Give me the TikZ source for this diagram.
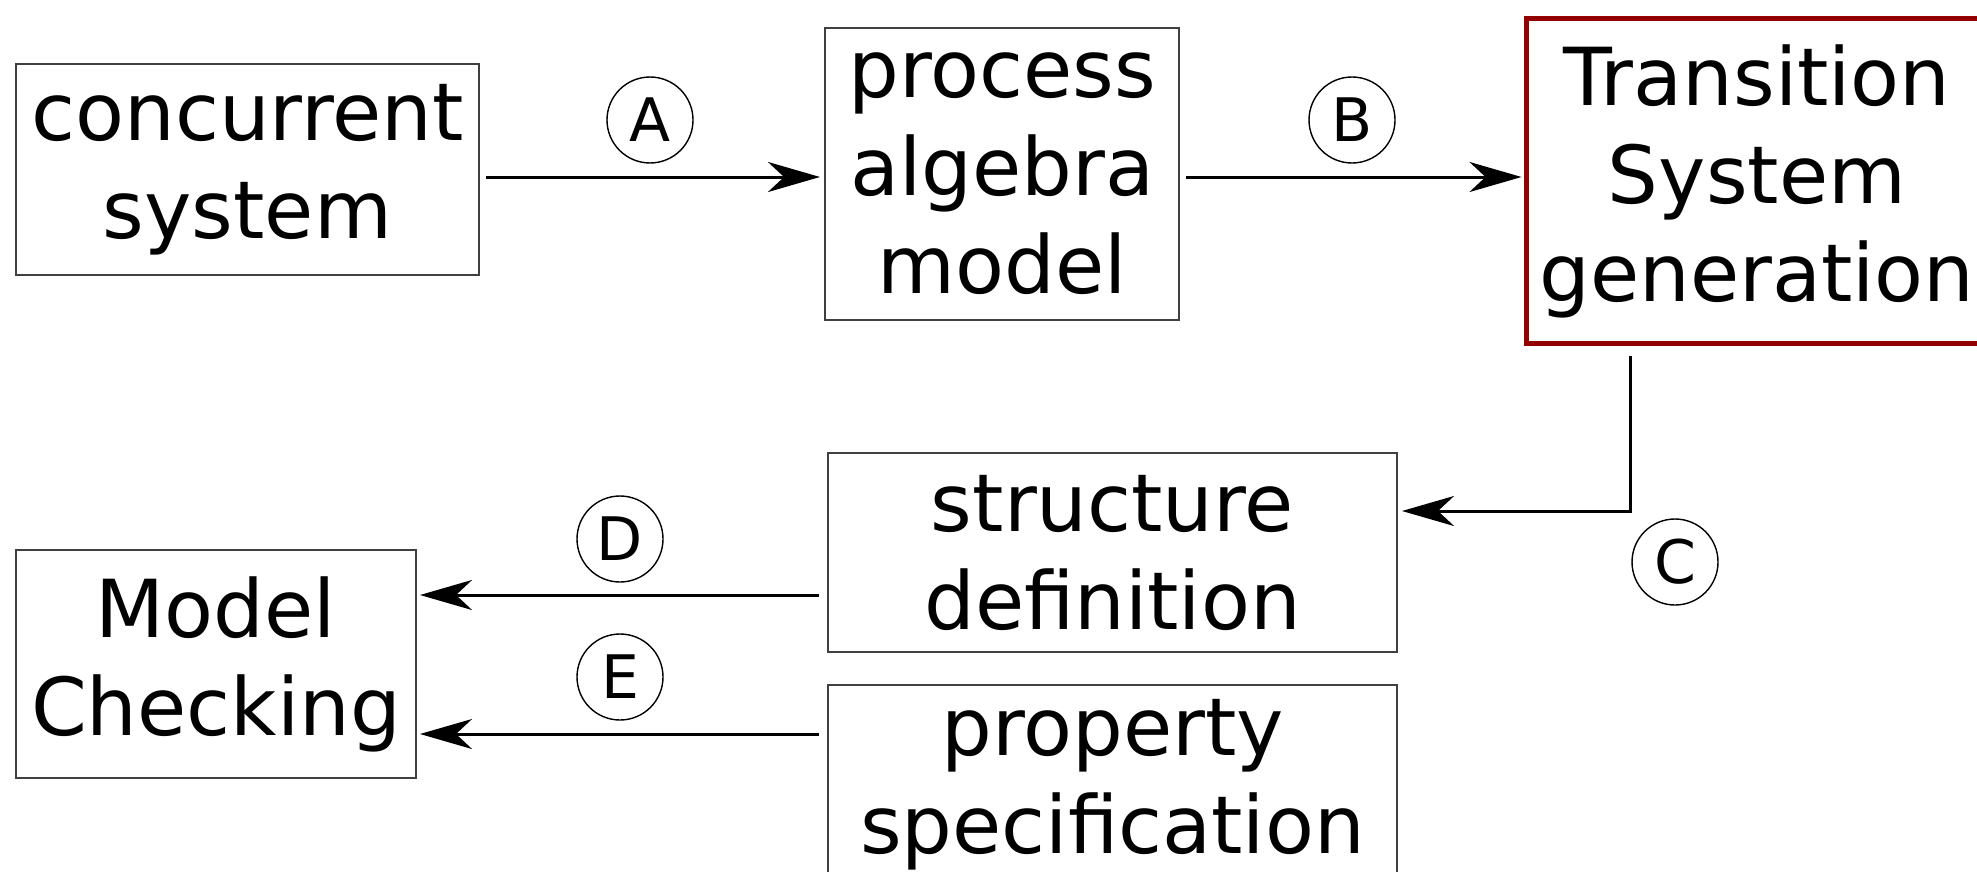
\documentclass[tikz,border=0pt]{standalone}
\usepackage{fontspec}
\setmainfont{DejaVu Sans}
\usetikzlibrary{arrows.meta}
\definecolor{tsred}{HTML}{930000}
\begin{document}
\begin{tikzpicture}[x=1pt,y=-1pt,
  box/.style={draw=black!75,line width=2pt,inner sep=0pt,align=center,
    font=\fontsize{80}{98}\selectfont},
  lbl/.style={draw=black,circle,line width=1.4pt,minimum size=86pt,inner sep=0pt,
    font=\fontsize{60}{64}\selectfont},
  arr/.style={line width=3pt,-{Stealth[length=52pt,width=30pt,inset=16pt]}}]
\useasboundingbox (0,0) rectangle (1977,872);
\clip (0,0) rectangle (1977,872);
% boxes
\node[box,minimum width=463pt,minimum height=211pt] (cs) at (247.5,169.5) {concurrent\\system};
\node[box,minimum width=354pt,minimum height=292pt] (pam) at (1002,174) {process\\algebra\\model};
\node[box,draw=tsred,line width=5pt,minimum width=462pt,minimum height=324pt] (ts) at (1757,181) {Transition\\System\\generation};
\node[box,minimum width=569pt,minimum height=199pt] (sd) at (1112.5,552.5) {structure\\definition};
\node[box,minimum width=569pt,minimum height=200pt] (ps) at (1112.5,785) {property\\specification};
\node[box,minimum width=400pt,minimum height=228pt] (mc) at (216,664) {Model\\Checking};
% labels
\node[lbl] (la) at (650,120) {A};
\node[lbl] (lb) at (1352,120) {B};
\node[lbl] (lc) at (1675,562) {C};
\node[lbl] (ld) at (620,539) {D};
\node[lbl] (le) at (620,677) {E};
% connectors
\draw[arr,shorten <=6pt,shorten >=4pt] (cs.east |- 0,177) -- (pam.west |- 0,177);
\draw[arr,shorten <=6pt,shorten >=2pt] (pam.east |- 0,177) -- (ts.west |- 0,177);
\draw[arr,shorten <=10pt,shorten >=4pt] ([xshift=107pt]ts.south west) |- (sd.east |- 0,511);
\draw[arr,shorten <=8pt,shorten >=3pt] (sd.west |- 0,595) -- (mc.east |- 0,595);
\draw[arr,shorten <=8pt,shorten >=3pt] (ps.west |- 0,734) -- (mc.east |- 0,734);
\end{tikzpicture}
\end{document}
